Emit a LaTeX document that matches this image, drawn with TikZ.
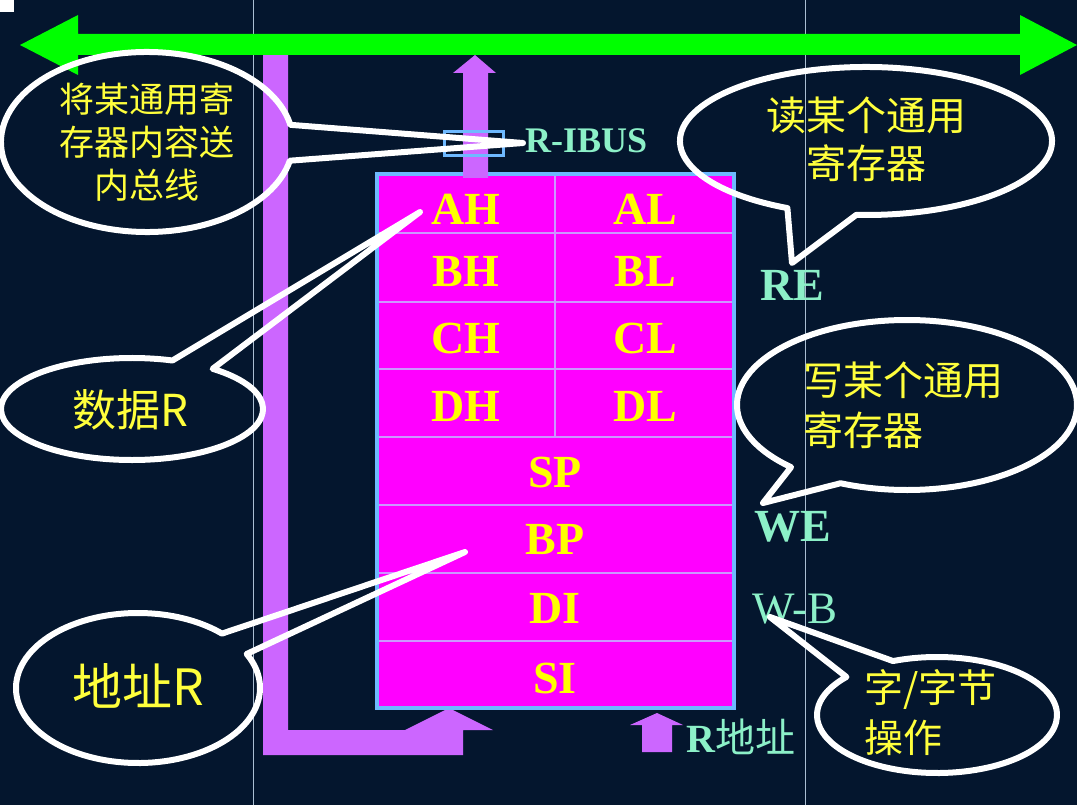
\documentclass[tikz,border=0pt]{standalone}
\usepackage{fontspec}
\setmainfont{Liberation Serif}
\newfontfamily\cjk{Noto Sans CJK SC}
\definecolor{bgnavy}{RGB}{4,22,46}
\definecolor{busgreen}{RGB}{0,255,0}
\definecolor{buspurple}{RGB}{204,102,255}
\definecolor{regmag}{RGB}{255,0,255}
\definecolor{regborder}{RGB}{110,185,255}
\definecolor{regdiv}{RGB}{205,150,255}
\definecolor{aqua}{RGB}{140,240,200}
\definecolor{txtyellow}{RGB}{255,255,0}
\definecolor{cyellow}{RGB}{255,255,60}
\definecolor{gridline}{RGB}{170,190,210}
\tikzset{
  regtext/.style={inner sep=0pt, text=txtyellow, font=\bfseries\fontsize{46}{46}\selectfont},
  sigtext/.style={inner sep=0pt, text=aqua, font=\bfseries\fontsize{46}{46}\selectfont},
  calltext/.style={inner sep=0pt, text=cyellow},
  callout/.style={draw=white, line width=6pt, line join=round},
  divline/.style={draw=regdiv, line width=1.5pt},
}
\begin{document}
\begin{tikzpicture}[x=1pt,y=1pt,yscale=-1]
\useasboundingbox (0,0) rectangle (1077,805);
\fill[bgnavy] (0,0) rectangle (1077,805);
% faint guide lines
\draw[gridline, line width=0.8pt] (253,0) -- (253,805);
\draw[gridline, line width=0.8pt] (805,0) -- (805,805);
\fill[white] (0,0) rectangle (14,12);

% purple L-shaped address bus with up arrow
\fill[buspurple] (263,50) -- (288,50) -- (288,730) -- (405,730) -- (449,708) -- (493,730)
  -- (463,730) -- (463,755) -- (263,755) -- cycle;

% green internal bus
\fill[busgreen] (20,45) -- (78,15) -- (78,34) -- (1020,34) -- (1020,15) -- (1077,45)
  -- (1020,75) -- (1020,55) -- (78,55) -- (78,75) -- cycle;

% register file
\node[draw=regborder, fill=regmag, line width=4pt, inner sep=0pt, outer sep=0pt, minimum width=357pt, minimum height=534pt] (regs) at (555.5,441) {};
\foreach \yy in {233,302,369,437,505,573,641} \draw[divline] (379,\yy) -- (732,\yy);
\draw[divline] (555,176) -- (555,437);

% output arrow to bus
\fill[buspurple] (463,178) -- (463,73) -- (453,73) -- (475,55) -- (496,73) -- (488,73) -- (488,178) -- cycle;
\node[draw=regborder, line width=3pt, minimum width=59pt, minimum height=24pt, inner sep=0pt] (gate) at (474,143.5) {};
\node[sigtext, anchor=west, font=\bfseries\fontsize{36}{36}\selectfont] (ribus) at (525,141) {R-IBUS};

\node[regtext] (AH) at (466,209) {AH};
\node[regtext] (AL) at (645,209) {AL};
\node[regtext] (BH) at (466,272) {BH};
\node[regtext] (BL) at (645,272) {BL};
\node[regtext] (CH) at (466,338) {CH};
\node[regtext] (CL) at (645,338) {CL};
\node[regtext] (DH) at (466,406) {DH};
\node[regtext] (DL) at (645,406) {DL};
\node[regtext] (SP) at (555,472) {SP};
\node[regtext] (BP) at (555,540) {BP};
\node[regtext] (DI) at (555,608) {DI};
\node[regtext] (SI) at (555,678) {SI};

% control signals
\node[sigtext] (RE) at (792,285) {RE};
\node[sigtext] (WE) at (793,527) {WE};
\node[sigtext, font=\fontsize{45}{45}\selectfont] (WB) at (795,609) {W-B};
\fill[buspurple] (642,752) -- (642,725) -- (630,725) -- (657,713) -- (683,725) -- (672,725) -- (672,752) -- cycle;
\node[sigtext, anchor=west, font=\fontsize{40}{40}\selectfont] (raddr) at (686,737) {\textbf{R}{\cjk 地址}};

% callout texts
\node[calltext, align=center, font=\cjk\fontsize{35}{43}\selectfont] (cA) at (147,142) {将某通用寄\\存器内容送\\内总线};
\node[calltext, align=center, font=\cjk\fontsize{40}{48}\selectfont] (cB) at (866,139) {读某个通用\\寄存器};
\node[calltext, align=left, anchor=west, font=\cjk\fontsize{40}{50}\selectfont] (cC) at (803,405) {写某个通用\\寄存器};
\node[calltext, font=\cjk\fontsize{44}{44}\selectfont] (cD) at (130,410) {数据R};
\node[calltext, font=\cjk\fontsize{50}{50}\selectfont] (cE) at (138,686) {地址R};
\node[calltext, align=left, anchor=west, font=\cjk\fontsize{39}{50}\selectfont] (cF) at (864,713) {字/字节\\操作};

% callout tips
\coordinate (tipA) at (523,143);
\coordinate (tipB) at (792,263);
\coordinate (tipC) at (763,503);
\coordinate (tipD) at (420,212);
\coordinate (tipE) at (465,552);
\coordinate (tipF) at (770,617);

% callout outlines
\draw[callout] ({147+146*cos(12)},{142+90*sin(12)}) arc[start angle=12, end angle=349, x radius=146pt, y radius=90pt] -- (tipA) -- cycle;
\draw[callout] ({866+186*cos(115)},{141+74*sin(115)}) arc[start angle=115, end angle=453, x radius=186pt, y radius=74pt] -- (tipB) -- cycle;
\draw[callout] ({907+170*cos(133)},{405+85*sin(133)}) arc[start angle=133, end angle=473, x radius=170pt, y radius=85pt] -- (tipC) -- cycle;
\draw[callout] ({132+131*cos(-52)},{409+51*sin(-52)}) arc[start angle=-52, end angle=288, x radius=131pt, y radius=51pt] -- (tipD) -- cycle;
\draw[callout] ({138+122*cos(-27)},{688+75*sin(-27)}) arc[start angle=-27, end angle=313.5, x radius=122pt, y radius=75pt] -- (tipE) -- cycle;
\draw[callout] ({937+120*cos(248.5)},{715+58*sin(248.5)}) arc[start angle=248.5, end angle=581, x radius=120pt, y radius=58pt] -- (tipF) -- cycle;
\end{tikzpicture}
\end{document}
